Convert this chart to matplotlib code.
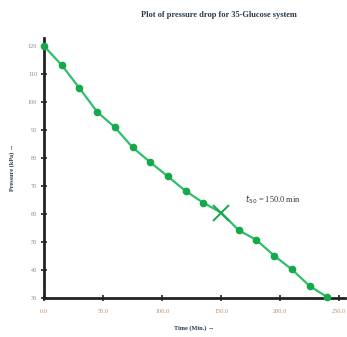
import matplotlib
matplotlib.use("Agg")
import matplotlib.pyplot as plt

# time (min) and pressure readings
time_min = [0, 15, 30, 45, 60, 75, 90, 105, 120, 135, 150, 165, 180, 195, 210, 225, 240]
pressure = [120, 113.2, 105, 96.5, 91, 83.8, 78.5, 73.4, 68.2, 64, 60.5, 54.2, 50.7, 45.1, 40.2, 34.3, 30.3]
t50 = 150.0
p50 = 60.5

x_ticks = [0, 50, 100, 150, 200, 250]
y_ticks = [30, 40, 50, 60, 70, 80, 90, 100, 110, 120]

plt.rcParams['font.family'] = ['Liberation Serif', 'DejaVu Serif']

fig = plt.figure(figsize=(3.47, 3.37), dpi=100)
ax = fig.add_axes([0.127, 0.116, 0.867, 0.772])

line_col = '#2fbf6a'
mark_col = '#16a84a'
t50_idx = time_min.index(t50)
others_x = [t for i, t in enumerate(time_min) if i != t50_idx]
others_y = [p for i, p in enumerate(pressure) if i != t50_idx]

ax.plot(time_min, pressure, '-', color=line_col, lw=1.6, zorder=2)
ax.plot(others_x, others_y, 'o', color=mark_col, ms=4.5, zorder=3, clip_on=False)
ax.plot([t50], [p50], 'x', color=mark_col, ms=11, mew=1.4, zorder=3)

ax.text(170, 65, r'$t_{50}$ = 150.0 min', fontsize=6, color='#333333', va='center')

ax.set_xlim(0, 255)
ax.set_ylim(30, 123)
ax.set_xticks(x_ticks)
ax.set_xticklabels([f'{v:.1f}' for v in x_ticks])
ax.set_yticks(y_ticks)
ax.tick_params(axis='x', direction='inout', length=4, width=1.2, colors='#222222',
               labelcolor='#b98a6a', labelsize=4.5, pad=6)
ax.tick_params(axis='y', direction='inout', length=4, width=1.2, colors='#222222',
               labelcolor='#8f8a86', labelsize=4.5, pad=3)

for side in ['top', 'right']:
    ax.spines[side].set_visible(False)
for side in ['left', 'bottom']:
    ax.spines[side].set_linewidth(2)
    ax.spines[side].set_color('#222222')

ax.set_xlabel('Time (Min.) \u2192', fontsize=4.5, fontweight='bold', color='#2a3a4a', labelpad=8)
ax.set_ylabel('Pressure (kPa) \u2192', fontsize=4.5, fontweight='bold', color='#2a3a4a', labelpad=9)
fig.text(0.63, 0.955, 'Plot of pressure drop for 35-Glucose system', fontsize=6,
         fontweight='bold', color='#2a3a4a', ha='center', va='center')

fig.savefig('out.png', dpi=100)
